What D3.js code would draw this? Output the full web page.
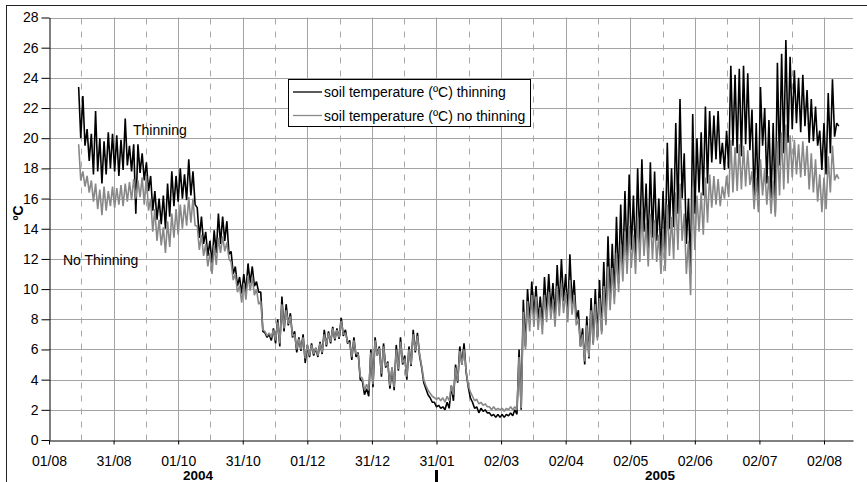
<!DOCTYPE html>
<html><head><meta charset="utf-8">
<script src="https://cdn.jsdelivr.net/npm/d3@7"></script>
<style>
body{margin:0;background:#fff;}
svg{display:block;font-family:"Liberation Sans",Arial,sans-serif;}
</style></head>
<body><svg id="c" width="867" height="482"></svg>
<script>
// ---- data (days since 01/08/2004; 2-day steps starting at day 14) ----
const startDay = 14;
const stepDays = 2;
const tickLabels = ["01/08","31/08","01/10","31/10","01/12","31/12","31/01","02/03","02/04","02/05","02/06","02/07","02/08"];
const yTicks = [0,2,4,6,8,10,12,14,16,18,20,22,24,26,28];
const seriesNames = ["soil temperature (ºC) thinning","soil temperature (ºC) no thinning"];

const thinHi = [
23.4,22.8,20.6,20.3,21.8,20.0,19.8,20.4,20.3,20.2,
19.9,21.3,19.5,19.6,19.6,19.0,18.4,17.5,16.5,16.0,
16.2,17.0,17.8,17.5,18.0,17.6,18.6,17.8,15.4,14.8,
13.8,13.2,13.9,15.0,14.8,14.5,12.5,11.5,10.8,11.0,
11.7,11.5,10.5,9.8,7.1,7.0,7.4,8.0,9.5,9.0,
8.4,7.2,6.8,7.0,6.3,6.4,6.1,6.5,7.3,7.2,
7.5,7.4,8.1,7.3,6.6,6.8,5.8,3.9,3.4,6.0,
6.8,6.2,6.4,5.2,4.8,6.3,6.8,5.6,6.2,7.3,
7.1,4.8,3.4,2.8,2.5,2.3,2.2,2.5,3.6,5.0,
6.2,6.4,3.5,2.5,2.2,2.1,2.0,1.8,1.7,1.7,
1.7,1.7,1.8,2.0,6.0,9.3,10.0,10.5,10.2,9.5,
10.8,11.0,10.4,11.6,12.0,11.0,12.3,10.6,8.6,7.4,
8.2,9.4,10.0,10.6,11.8,13.5,13.0,14.8,15.6,16.5,
17.6,16.2,18.0,18.6,17.0,18.4,17.8,16.0,16.5,19.7,
18.0,21.0,22.6,19.0,16.0,21.6,20.0,20.4,22.1,21.8,
21.5,21.8,19.7,20.5,24.8,24.2,24.6,24.8,24.3,21.9,
21.0,23.4,22.0,21.2,21.0,25.0,25.6,26.5,25.4,24.5,
24.0,24.2,23.2,22.6,22.1,20.5,21.0,23.0,23.9,21.0];

const thinLo = [
20.0,19.5,18.5,17.6,17.8,17.0,17.6,18.0,17.8,17.5,
17.9,18.2,17.8,15.0,17.7,17.2,16.5,15.2,14.6,14.3,
14.0,14.8,15.5,15.8,16.0,15.9,16.2,15.6,13.4,13.0,
12.2,11.7,12.4,13.0,13.2,12.3,11.0,10.2,9.7,9.8,
10.4,10.2,9.8,7.2,6.8,6.6,6.4,6.2,7.2,7.6,
6.8,5.8,5.9,5.1,5.5,5.6,5.5,5.7,6.2,6.4,
6.6,6.7,6.9,6.4,5.3,5.5,4.0,3.0,2.9,3.5,
5.6,4.2,4.8,3.4,3.3,4.6,5.0,4.0,4.9,5.8,
5.6,3.8,3.0,2.5,2.2,2.1,2.0,2.1,2.6,3.8,
5.0,4.5,2.8,2.1,1.8,1.9,1.8,1.6,1.5,1.5,
1.5,1.6,1.6,1.7,2.0,6.2,7.8,8.2,7.9,7.6,
8.4,8.6,8.0,8.8,9.2,8.4,9.0,8.0,6.2,5.0,
5.4,6.4,6.8,7.2,7.8,9.0,9.5,10.4,11.2,12.0,
12.6,12.0,13.0,13.8,12.6,13.4,13.2,12.2,12.5,14.0,
14.1,15.0,16.0,13.0,11.0,15.0,16.4,16.2,17.0,18.4,
18.6,18.3,17.9,18.0,19.5,19.0,18.8,19.6,19.2,15.8,
15.5,19.5,17.0,16.0,15.1,18.2,19.0,19.7,20.6,21.0,
20.4,20.8,19.7,19.8,19.5,17.9,17.6,19.0,20.1,20.8];

const noThinHi = [
19.6,17.8,17.5,17.2,17.0,16.6,16.8,16.5,16.8,16.7,
16.9,17.0,17.1,17.3,17.2,17.4,17.5,16.0,15.3,14.6,
14.1,14.5,15.0,15.3,15.6,15.6,16.1,16.0,14.2,13.6,
13.0,12.4,12.9,13.4,13.5,13.1,11.8,11.0,10.2,10.4,
10.9,10.8,10.0,9.2,7.2,7.1,7.3,7.8,9.0,8.6,
8.2,7.0,6.7,6.8,6.3,6.3,6.1,6.4,7.0,7.1,
7.4,7.3,7.9,7.1,6.4,6.6,5.7,4.1,3.7,5.8,
6.6,6.1,6.2,5.1,4.8,6.0,6.5,5.4,6.0,7.0,
6.9,4.9,3.6,3.1,2.8,2.8,2.8,2.9,3.6,4.8,
5.9,6.0,3.6,2.9,2.7,2.5,2.4,2.2,2.2,2.1,
2.1,2.1,2.2,2.2,5.5,8.5,9.2,9.6,9.5,8.8,
9.6,9.8,9.3,10.2,10.4,9.8,10.6,9.6,8.0,7.0,
7.6,8.6,9.0,9.4,10.2,11.5,11.4,12.4,13.0,13.8,
14.2,13.6,14.8,15.2,14.4,15.0,14.6,13.6,14.0,15.6,
14.8,16.4,17.0,15.0,13.2,16.8,16.2,16.4,17.4,17.6,
17.5,17.3,16.8,17.5,19.9,19.4,19.6,19.5,19.2,17.8,
17.4,18.6,18.0,17.5,17.2,19.8,20.4,20.9,20.2,19.9,
19.6,19.8,19.5,19.0,18.6,17.6,17.4,18.8,19.5,17.6];

const noThinLo = [
17.2,16.8,16.4,15.8,15.3,14.9,15.2,15.5,15.4,15.6,
15.5,15.8,15.9,16.0,16.1,15.6,15.2,13.8,13.2,12.9,
12.4,12.8,13.4,13.6,14.0,14.2,14.4,14.2,12.6,12.2,
11.5,11.0,11.6,12.4,12.5,12.0,10.6,9.8,9.1,9.3,
9.9,9.6,9.0,7.3,6.9,6.8,6.6,6.4,7.4,7.7,
6.9,6.0,6.0,5.4,5.6,5.7,5.6,5.8,6.3,6.5,
6.7,6.8,7.0,6.5,5.5,5.7,4.2,3.3,3.3,3.7,
5.6,4.4,4.9,3.6,3.5,4.7,5.1,4.2,5.0,5.9,
5.7,4.0,3.3,2.9,2.7,2.6,2.5,2.6,3.0,3.9,
5.0,4.6,3.2,2.6,2.4,2.3,2.2,2.0,2.0,2.0,
1.9,2.0,2.0,2.0,2.1,6.0,7.2,7.5,7.3,7.0,
7.8,8.0,7.5,8.2,8.4,7.8,8.3,7.6,6.2,5.2,
5.5,6.3,6.6,7.0,7.6,8.6,9.0,9.8,10.5,11.0,
11.4,11.0,11.8,12.2,11.5,12.0,11.8,11.0,11.2,12.2,
12.0,12.6,13.2,11.0,9.6,12.6,13.8,13.6,14.4,15.4,
15.6,15.5,16.0,16.1,16.4,16.5,16.6,16.8,16.9,15.3,
15.1,16.2,15.6,15.0,14.8,16.2,16.6,17.0,17.4,17.6,
17.4,17.5,16.6,16.4,15.8,15.1,15.3,16.4,17.2,17.3];

// ---- chart ----
const svg = d3.select("#c");
const W = 867, H = 482;
const x = d3.scaleLinear().domain([0, 379.7]).range([49, 853]);
const y = d3.scaleLinear().domain([0, 28]).range([440, 17.5]);
const majorDays = tickLabels.map((d,i) => i*30.5);
const minorDays = d3.range(12).map(i => i*30.5 + 15.25);

// outer frame
svg.append("line").attr("x1",6).attr("x2",W).attr("y1",5.5).attr("y2",5.5).attr("stroke","#222");
svg.append("line").attr("x1",6.5).attr("x2",6.5).attr("y1",5).attr("y2",H).attr("stroke","#222");

const grid = svg.append("g");
grid.selectAll("line.h").data(yTicks.filter(v=>v>0)).join("line")
  .attr("x1",x.range()[0]).attr("x2",x.range()[1])
  .attr("y1",d=>Math.round(y(d))+0.5).attr("y2",d=>Math.round(y(d))+0.5)
  .attr("stroke","#a3a3a3");
grid.selectAll("line.v").data(majorDays.slice(1)).join("line")
  .attr("x1",d=>Math.round(x(d))+0.5).attr("x2",d=>Math.round(x(d))+0.5)
  .attr("y1",y(28)).attr("y2",y(0))
  .attr("stroke","#a3a3a3");
grid.selectAll("line.m").data(minorDays).join("line")
  .attr("x1",d=>Math.round(x(d))+0.5).attr("x2",d=>Math.round(x(d))+0.5)
  .attr("y1",y(28)+1).attr("y2",y(0))
  .attr("stroke","#a8a8a8").attr("stroke-dasharray","6,7");

// series as diurnal zigzags (high, low per step)
function pts(hi, lo){
  const p = [];
  hi.forEach((h,i) => {
    const t = startDay + i*stepDays;
    p.push([t, h]); p.push([t+1, lo[i]]);
  });
  return p;
}
const line = d3.line().x(d=>x(d[0])).y(d=>y(d[1]));
svg.append("path").datum(pts(thinHi, thinLo)).attr("d",line)
  .attr("fill","none").attr("stroke","#000").attr("stroke-width",1.6).attr("stroke-linejoin","bevel");
svg.append("path").datum(pts(noThinHi, noThinLo)).attr("d",line)
  .attr("fill","none").attr("stroke","#888").attr("stroke-width",1.6).attr("stroke-linejoin","bevel");

// axes
const yAxis = svg.append("g").attr("transform",`translate(${x.range()[0]+0.5},0)`)
  .call(d3.axisLeft(y).tickValues(yTicks).tickSize(8).tickPadding(3).tickSizeOuter(0));
const xAxis = svg.append("g").attr("transform",`translate(0,${Math.round(y(0))+0.5})`)
  .call(d3.axisBottom(x).tickValues(majorDays).tickFormat((d,i)=>tickLabels[i]).tickSize(4).tickPadding(12).tickSizeOuter(0));
[yAxis,xAxis].forEach(g=>{
  g.selectAll("text").attr("font-size",14).attr("font-family","Liberation Sans, Arial, sans-serif").attr("fill","#000");
  g.selectAll("line,path").attr("stroke","#000");
});

// year labels
svg.append("text").attr("x",198).attr("y",480).attr("text-anchor","middle")
  .attr("font-size",13.5).attr("font-weight","bold").text("2004");
svg.append("text").attr("x",660).attr("y",480).attr("text-anchor","middle")
  .attr("font-size",13.5).attr("font-weight","bold").text("2005");
svg.append("rect").attr("x",435).attr("y",470).attr("width",3).attr("height",12).attr("fill","#000");

// y title
svg.append("text").attr("transform","translate(23,213) rotate(-90)").attr("text-anchor","middle")
  .attr("font-size",14).attr("font-weight","bold").text("ºC");

// annotations
svg.append("text").attr("x",133).attr("y",135).attr("font-size",14).text("Thinning");
svg.append("text").attr("x",63).attr("y",265).attr("font-size",14).text("No Thinning");

// legend
const lg = svg.append("g");
lg.append("rect").attr("x",288.5).attr("y",79.5).attr("width",242).attr("height",47)
  .attr("fill","#fff").attr("stroke","#000");
const lc = ["#000","#888"];
seriesNames.forEach((n,i)=>{
  const yy = 92 + i*23.5;
  lg.append("line").attr("x1",293).attr("x2",322).attr("y1",yy).attr("y2",yy).attr("stroke",lc[i]).attr("stroke-width",1.3);
  lg.append("text").attr("x",324).attr("y",yy+5).attr("font-size",14).text(n);
});
</script></body></html>
